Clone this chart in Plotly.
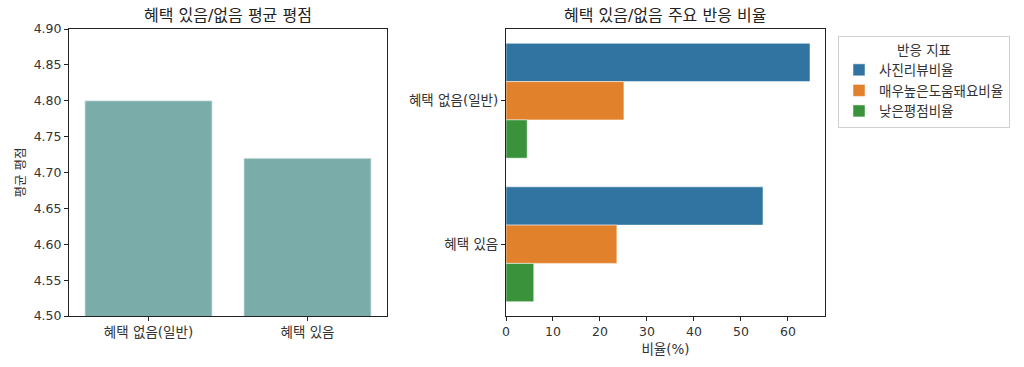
import plotly.graph_objects as go

groups = ["혜택 없음(일반)", "혜택 있음"]
avg_rating = [4.80, 4.72]

metrics = ["사진리뷰비율", "매우높은도움돼요비율", "낮은평점비율"]
metric_values = {
    "사진리뷰비율": [64.7, 54.7],
    "매우높은도움돼요비율": [25.1, 23.6],
    "낮은평점비율": [4.5, 5.9],
}
metric_colors = ["#3274a1", "#e1812c", "#3a923a"]
rating_ticks = [4.50, 4.55, 4.60, 4.65, 4.70, 4.75, 4.80, 4.85, 4.90]
pct_ticks = [0, 10, 20, 30, 40, 50, 60]

FONT = "DejaVu Sans, Noto Sans CJK KR, sans-serif"
fig = go.Figure()

fig.add_trace(go.Bar(
    x=groups, y=avg_rating, xaxis="x", yaxis="y",
    marker=dict(color="#7aada9", line=dict(color="#e8f0ef", width=0.8)),
    showlegend=False,
))

for name, col in zip(metrics, metric_colors):
    fig.add_trace(go.Bar(
        y=groups, x=metric_values[name], orientation="h",
        xaxis="x2", yaxis="y2", name=name,
        marker=dict(color=col, line=dict(color="white", width=0.5)),
    ))

axis_common = dict(showline=True, linecolor="#222", linewidth=1, mirror=True,
                   ticks="outside", ticklen=4, tickcolor="#222", showgrid=False,
                   zeroline=False, automargin=False)
num_font = dict(size=12.5, color="#333")
kor_font = dict(size=13.5, color="#333")

fig.update_layout(
    width=1024, height=367,
    margin=dict(l=0, r=0, t=0, b=0),
    paper_bgcolor="white", plot_bgcolor="white",
    font=dict(family=FONT, size=12.5, color="#333"),
    barmode="group", bargap=0.2, bargroupgap=0,
    xaxis=dict(domain=[69/1024, 387/1024], anchor="y", type="category",
               range=[-0.5, 1.5], tickfont=kor_font, **axis_common),
    yaxis=dict(domain=[1-316/367, 1-29/367], anchor="x", range=[4.5, 4.9],
               tickvals=rating_ticks, tickformat=".2f", tickfont=num_font,
               title=dict(text="평균 평점", font=dict(size=12.5), standoff=5),
               **axis_common),
    xaxis2=dict(domain=[506/1024, 825/1024], anchor="y2", range=[0, 67.9],
                tickvals=pct_ticks, tickfont=num_font,
                title=dict(text="비율(%)", font=dict(size=13.5), standoff=6),
                **axis_common),
    yaxis2=dict(domain=[1-316/367, 1-29/367], anchor="x2", type="category",
                range=[1.5, -0.5], tickfont=kor_font, **axis_common),
    legend=dict(x=838/1024, y=1-36/367, xanchor="left", yanchor="top",
                bordercolor="#d0d0d0", borderwidth=1, bgcolor="white",
                title=dict(text="반응 지표", side="top center", font=dict(size=13.5)),
                font=dict(size=13.5), traceorder="normal", tracegroupgap=2),
    annotations=[
        dict(text="혜택 있음/없음 평균 평점", x=228/1024, y=1-15/367, xref="paper", yref="paper",
             showarrow=False, font=dict(size=16, color="#222"), xanchor="center", yanchor="middle"),
        dict(text="혜택 있음/없음 주요 반응 비율", x=665/1024, y=1-15/367, xref="paper", yref="paper",
             showarrow=False, font=dict(size=16, color="#222"), xanchor="center", yanchor="middle"),
    ],
)

fig.write_html("out.html")
